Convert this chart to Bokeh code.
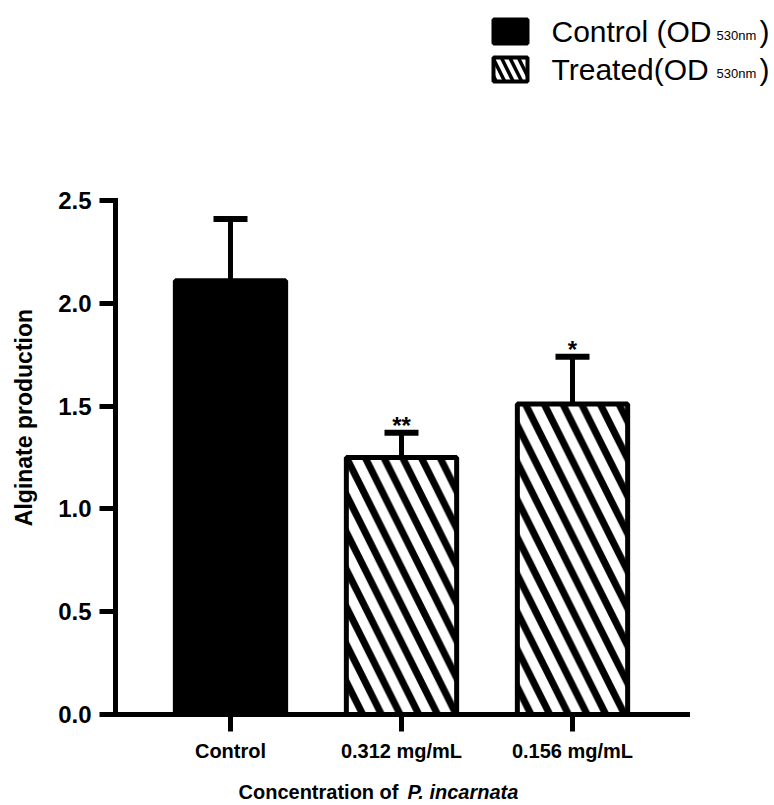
from bokeh.plotting import figure
from bokeh.layouts import column, row
from bokeh.models import (FactorRange, Range1d, FixedTicker, Whisker, TeeHead,
                          ColumnDataSource)
from bokeh.embed import file_html
from bokeh.resources import INLINE
from bokeh.core.properties import value
import math

# ---- data ----
categories = ["Control", "0.312 mg/mL", "0.156 mg/mL"]
groups = ["Control", "Treated", "Treated"]
alginate = [2.11, 1.25, 1.51]
sd = [0.30, 0.12, 0.23]
significance = ["", "**", "*"]
y_ticks = [0.0, 0.5, 1.0, 1.5, 2.0, 2.5]
y_tick_labels = ["0.0", "0.5", "1.0", "1.5", "2.0", "2.5"]
legend_groups = ["Control", "Treated"]
legend_labels = ["Control (OD", "Treated(OD"]
legend_sub = "530nm"
y_title = "Alginate production"
x_title_plain = "Concentration of"
x_title_italic = "P. incarnata"

FONT = "Liberation Sans"
TOTAL_W, TOP_H, MAIN_H, BOT_H, LEFT_W = 772, 180, 592, 31, 48

upper = [a + s for a, s in zip(alginate, sd)]


def blank(w, h):
    f = figure(width=w, height=h, output_backend="svg", toolbar_location=None,
               x_axis_type=None, y_axis_type=None, min_border=0,
               x_range=Range1d(0, w), y_range=Range1d(0, h))
    f.outline_line_color = None
    f.xgrid.grid_line_color = None
    f.ygrid.grid_line_color = None
    return f

# ---------------- main chart ----------------
p = figure(width=TOTAL_W - LEFT_W, height=MAIN_H, output_backend="svg",
           toolbar_location=None,
           x_range=FactorRange(factors=categories, range_padding=0.1725,
                               range_padding_units="absolute"),
           y_range=Range1d(0, 2.5),
           min_border_left=67, min_border_right=TOTAL_W - LEFT_W - 67 - 572,
           min_border_top=20, min_border_bottom=58)
p.outline_line_color = None
p.xgrid.grid_line_color = None
p.ygrid.grid_line_color = None


def subset(g):
    idx = [i for i, gg in enumerate(groups) if gg == g]
    return ColumnDataSource(dict(x=[categories[i] for i in idx],
                                 top=[alginate[i] for i in idx]))

CTRL_STYLE = dict(fill_color="black", line_color="black")
TRT_STYLE = dict(fill_color="white", line_color="black",
                 hatch_pattern="left_diagonal_line", hatch_color="black")

p.vbar(x="x", top="top", width=0.645, source=subset("Control"), line_width=5, **CTRL_STYLE)
p.vbar(x="x", top="top", width=0.645, source=subset("Treated"), line_width=5,
       hatch_scale=37.4, hatch_weight=7, **TRT_STYLE)

err_src = ColumnDataSource(dict(x=categories, lower=alginate, upper=upper, sig=significance))
p.add_layout(Whisker(base="x", lower="lower", upper="upper", source=err_src,
                     dimension="height", line_color="black", line_width=5,
                     upper_head=TeeHead(size=34, line_width=6, line_color="black"),
                     lower_head=None, level="glyph"))

p.text(x="x", y="upper", text="sig", source=err_src, text_font=value(FONT),
       text_font_size="24px", text_font_style="bold", text_align="center",
       text_baseline="middle", y_offset=-7, text_color="black")

for ax in (p.xaxis[0], p.yaxis[0]):
    ax.axis_line_width = 5
    ax.axis_line_color = "black"
    ax.axis_line_cap = "square"
    ax.major_tick_line_width = 5
    ax.major_tick_line_color = "black"
    ax.major_tick_in = 0
    ax.minor_tick_line_color = None
    ax.major_label_text_font = FONT
    ax.major_label_text_font_style = "bold"
    ax.major_label_text_color = "black"

p.yaxis.ticker = FixedTicker(ticks=y_ticks)
p.yaxis.major_label_overrides = {t: l for t, l in zip(y_ticks, y_tick_labels)}
p.yaxis.major_tick_out = 16
p.yaxis.major_label_standoff = 8
p.yaxis.major_label_text_font_size = "24px"

p.xaxis.major_tick_out = 17
p.xaxis.major_label_standoff = 8
p.xaxis.major_label_text_font_size = "20px"
p.xaxis.major_label_orientation = "horizontal"

# ---------------- legend strip (top) ----------------
top = blank(TOTAL_W, TOP_H)
top.rect(x=510, y=TOP_H - 31, width=34, height=24, line_width=4, **CTRL_STYLE)
top.rect(x=510, y=TOP_H - 69, width=34, height=24, line_width=4,
         hatch_scale=17, hatch_weight=3.5, **TRT_STYLE)
top.text(x=[551, 551], y=[TOP_H - 31, TOP_H - 69], text=legend_labels,
         text_font=value(FONT), text_font_size="30px", text_color="black",
         text_align="left", text_baseline="middle")
top.text(x=[716, 716], y=[TOP_H - 35, TOP_H - 73], text=[legend_sub, legend_sub],
         text_font=value(FONT), text_font_size="13px", text_color="black",
         text_align="left", text_baseline="middle")
top.text(x=[759, 759], y=[TOP_H - 31, TOP_H - 69], text=[")", ")"],
         text_font=value(FONT), text_font_size="30px", text_color="black",
         text_align="left", text_baseline="middle")

# ---------------- y title (left) ----------------
left = blank(LEFT_W, MAIN_H)
left.text(x=[23], y=[342], text=[y_title], angle=math.pi / 2,
          text_font=value(FONT), text_font_size="23px", text_font_style="bold",
          text_color="black", text_align="center", text_baseline="middle")

# ---------------- x title (bottom) ----------------
bot = blank(TOTAL_W, BOT_H)
bot.text(x=[398], y=[11.5], text=[x_title_plain], text_font=value(FONT),
         text_font_size="20px", text_font_style="bold", text_color="black",
         text_align="right", text_baseline="middle")
bot.text(x=[407], y=[11.5], text=[x_title_italic], text_font=value(FONT),
         text_font_size="20px", text_font_style="bold italic", text_color="black",
         text_align="left", text_baseline="middle")

layout = column(top, row(left, p, spacing=0), bot, spacing=0)
open("out.html", "w").write(file_html(layout, INLINE))
